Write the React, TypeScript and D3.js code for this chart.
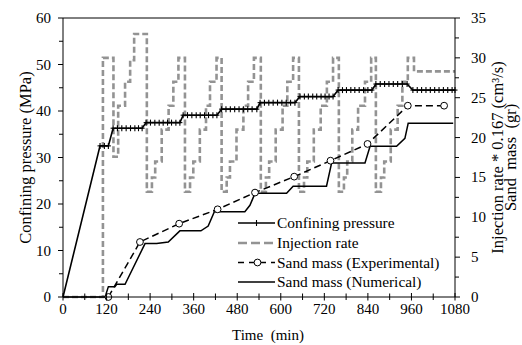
import React from 'react';
import * as d3 from 'd3';

const timeTicks = [0, 120, 240, 360, 480, 600, 720, 840, 960, 1080];
const pressureTicks = [0, 10, 20, 30, 40, 50, 60];
const rightTicks = [0, 5, 10, 15, 20, 25, 30, 35];

const confTime = [0, 102, 114, 125, 138, 150, 162, 174, 186, 198, 208, 218, 229, 241, 253, 265, 276, 288, 299, 311, 322, 331, 343, 355, 367, 378, 390, 401, 413, 424, 437, 449, 461, 473, 485, 497, 509, 521, 534, 543, 555, 567, 579, 591, 603, 615, 627, 639, 653, 665, 676, 688, 699, 711, 722, 733, 744, 758, 770, 781, 793, 804, 816, 828, 840, 851, 862, 874, 886, 898, 910, 922, 935, 948, 964, 976, 988, 1000, 1012, 1024, 1036, 1048, 1060, 1072, 1080];
const confPressure = [0, 32.5, 32.5, 32.5, 36.3, 36.3, 36.3, 36.3, 36.3, 36.3, 36.3, 36.3, 37.5, 37.5, 37.5, 37.5, 37.5, 37.5, 37.5, 37.5, 37.5, 39.1, 39.1, 39.1, 39.1, 39.1, 39.1, 39.1, 39.1, 39.1, 40.4, 40.4, 40.4, 40.4, 40.4, 40.4, 40.4, 40.4, 40.4, 41.8, 41.8, 41.8, 41.8, 41.8, 41.8, 41.8, 41.8, 41.8, 43.1, 43.1, 43.1, 43.1, 43.1, 43.1, 43.1, 43.1, 43.1, 44.5, 44.5, 44.5, 44.5, 44.5, 44.5, 44.5, 44.5, 44.5, 45.8, 45.8, 45.8, 45.8, 45.8, 45.8, 45.8, 45.8, 44.5, 44.5, 44.5, 44.5, 44.5, 44.5, 44.5, 44.5, 44.5, 44.5, 44.5];

// injection rate (step-after), right axis units
const injTime = [0, 110, 139, 152, 171, 185, 196, 231, 245, 254, 272, 291, 304, 318, 336, 350, 359, 377, 394, 405, 423, 437, 451, 460, 478, 497, 510, 526, 545, 559, 568, 586, 605, 618, 634, 650, 664, 673, 691, 710, 727, 744, 760, 774, 783, 797, 813, 832, 849, 862, 876, 885, 903, 922, 935, 950, 967, 1080];
const injRate = [0, 30, 17.6, 24, 27, 29.7, 33, 13.2, 15, 17, 21, 24, 27, 30, 13.2, 15, 17, 21, 24, 27, 30, 13.2, 15, 17, 21, 24, 27, 30, 13.2, 15, 17, 21, 24, 27, 30, 13.2, 15, 17, 21, 24, 27, 30, 13.2, 15, 17, 21, 24, 27, 30, 13.2, 15, 17, 21, 24, 27, 30, 28.3, 28.3];

const sandExpTime = [125, 212, 320, 426, 529, 637, 737, 839, 950, 1050];
const sandExpMass = [0, 6.9, 9.2, 11.0, 13.1, 15.1, 17.1, 19.2, 24.0, 24.0];

const sandNumTime = [0, 116, 125, 143, 148, 171, 226, 258, 290, 322, 380, 400, 417, 501, 515, 529, 616, 634, 726, 740, 832, 846, 919, 942, 951, 1075];
const sandNumMass = [0, 0, 1.3, 1.3, 1.6, 1.6, 6.7, 6.7, 6.9, 8.3, 8.3, 8.9, 10.7, 10.7, 11.5, 13.0, 13.0, 13.9, 13.9, 16.8, 16.8, 18.9, 18.9, 19.9, 21.8, 21.8];

const legendLabels = ['Confining pressure', 'Injection rate', 'Sand mass (Experimental)', 'Sand mass (Numerical)'];

const FONT = 'Liberation Serif, DejaVu Serif, serif';

export default function App() {
  const W = 522, H = 345;
  const L = 63, R = 455, T = 18, B = 297;
  const x = d3.scaleLinear().domain([0, 1080]).range([L, R]);
  const yL = d3.scaleLinear().domain([0, 60]).range([B, T]);
  const yR = d3.scaleLinear().domain([0, 35]).range([B, T]);

  const confPts = confTime.map((t, i) => [t, confPressure[i]] as [number, number]);
  const injPts = injTime.map((t, i) => [t, injRate[i]] as [number, number]);
  const expPts = sandExpTime.map((t, i) => [t, sandExpMass[i]] as [number, number]);
  const numPts = sandNumTime.map((t, i) => [t, sandNumMass[i]] as [number, number]);

  const confLine = d3.line<[number, number]>().x(d => x(d[0])).y(d => yL(d[1]))(confPts) || '';
  const injLine = d3.line<[number, number]>().x(d => x(d[0])).y(d => yR(d[1])).curve(d3.curveStepAfter)(injPts) || '';
  const expLine = d3.line<[number, number]>().x(d => x(d[0])).y(d => yR(d[1]))(expPts) || '';
  const numLine = d3.line<[number, number]>().x(d => x(d[0])).y(d => yR(d[1]))(numPts) || '';

  const xMinor = d3.range(60, 1080, 120);
  const lMinor = d3.range(5, 60, 10);
  const rMinor = d3.range(2.5, 35, 5);

  const legX0 = 238, legX1 = 275, legTx = 277;
  const legY = [223, 243, 262.5, 282];
  const txt = { fontFamily: FONT } as React.CSSProperties;

  return (
    <svg width={W} height={H} style={{ position: 'absolute', left: 0, top: 0, background: '#fff', fontFamily: FONT }}>
      <rect x={0} y={0} width={W} height={H} fill="#fff" />
      {/* injection rate */}
      <path d={injLine} fill="none" stroke="#939393" strokeWidth={2.6} strokeDasharray="6,3" />
      {/* sand numerical */}
      <path d={numLine} fill="none" stroke="#000" strokeWidth={1.5} />
      {/* sand experimental */}
      <path d={expLine} fill="none" stroke="#000" strokeWidth={1.5} strokeDasharray="7,4" />
      {expPts.map((d, i) => (
        <circle key={i} cx={x(d[0])} cy={yR(d[1])} r={3.4} fill="#fff" stroke="#000" strokeWidth={1} />
      ))}
      {/* confining pressure */}
      <path d={confLine} fill="none" stroke="#000" strokeWidth={1.6} />
      {confPts.filter(d => d[1] > 0).map((d, i) => (
        <g key={i} stroke="#000" strokeWidth={1.1}>
          <line x1={x(d[0])} x2={x(d[0])} y1={yL(d[1]) - 3} y2={yL(d[1]) + 3} />
          <line x1={x(d[0]) - 2.5} x2={x(d[0]) + 2.5} y1={yL(d[1])} y2={yL(d[1])} />
        </g>
      ))}

      {/* frame */}
      <g stroke="#000" strokeWidth={1} fill="none">
        <line x1={L} x2={R} y1={T} y2={T} />
        <line x1={L} x2={R} y1={B} y2={B} />
        <line x1={L} x2={L} y1={T} y2={B} />
        <line x1={R} x2={R} y1={T} y2={B} />
        {timeTicks.map(t => <line key={'xt' + t} x1={x(t)} x2={x(t)} y1={B - 4} y2={B + 3.5} />)}
        {xMinor.map(t => <line key={'xm' + t} x1={x(t)} x2={x(t)} y1={B - 3.5} y2={B + 3} />)}
        {pressureTicks.map(v => <line key={'lt' + v} x1={L - 5} x2={L} y1={yL(v)} y2={yL(v)} />)}
        {lMinor.map(v => <line key={'lm' + v} x1={L - 4} x2={L} y1={yL(v)} y2={yL(v)} />)}
        {rightTicks.map(v => <line key={'rt' + v} x1={R} x2={R + 5} y1={yR(v)} y2={yR(v)} />)}
        {rMinor.map(v => <line key={'rm' + v} x1={R} x2={R + 4} y1={yR(v)} y2={yR(v)} />)}
      </g>

      {/* tick labels */}
      <g fontSize={15} fill="#000">
        {timeTicks.map(t => <text key={'xl' + t} style={txt} x={x(t)} y={314} textAnchor="middle">{t}</text>)}
        {pressureTicks.map(v => <text key={'ll' + v} style={txt} x={51} y={yL(v) + 5} textAnchor="end">{v}</text>)}
        {rightTicks.map(v => <text key={'rl' + v} style={txt} x={471} y={yR(v) + 5} textAnchor="start">{v}</text>)}
      </g>

      {/* axis titles */}
      <text x={268} y={340} fontSize={15} textAnchor="middle" style={{ ...txt, whiteSpace: 'pre' }}>{'Time  (min)'}</text>
      <text transform={`translate(31,${(T + B) / 2}) rotate(-90)`} style={txt} fontSize={16.5} textAnchor="middle">Confining pressure (MPa)</text>
      <text transform={`translate(503,${(T + B) / 2}) rotate(-90)`} style={txt} fontSize={16.5} textAnchor="middle">Injection rate * 0.167 (cm³/s)</text>
      <text transform={`translate(516,${(T + B) / 2}) rotate(-90)`} fontSize={16.5} textAnchor="middle" style={{ ...txt, whiteSpace: 'pre' }}>{'Sand  mass  (gr)'}</text>

      {/* legend */}
      <g>
        <line x1={legX0} x2={legX1} y1={legY[0]} y2={legY[0]} stroke="#000" strokeWidth={1.6} />
        <line x1={(legX0 + legX1) / 2} x2={(legX0 + legX1) / 2} y1={legY[0] - 3} y2={legY[0] + 3} stroke="#000" strokeWidth={1.1} />
        <line x1={legX0} x2={legX1} y1={legY[1]} y2={legY[1]} stroke="#939393" strokeWidth={2.6} strokeDasharray="9,4" />
        <line x1={legX0} x2={legX1} y1={legY[2]} y2={legY[2]} stroke="#000" strokeWidth={1.5} strokeDasharray="6,5" />
        <circle cx={(legX0 + legX1) / 2 + 1} cy={legY[2]} r={3.4} fill="#fff" stroke="#000" strokeWidth={1} />
        <line x1={legX0} x2={legX1} y1={legY[3]} y2={legY[3]} stroke="#000" strokeWidth={1.5} />
        {legendLabels.map((s, i) => (
          <text key={s} style={txt} x={legTx} y={legY[i] + 5} fontSize={15.4}>{s}</text>
        ))}
      </g>
    </svg>
  );
}
